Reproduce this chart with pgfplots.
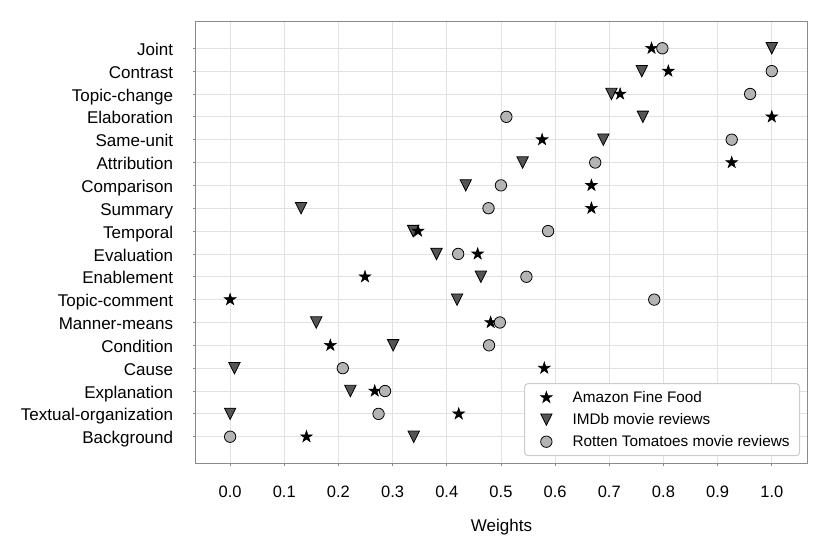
\documentclass[border=0pt]{standalone}
\usepackage{fontspec}
\setmainfont{Liberation Sans}
\usepackage{pgfplots}
\pgfplotsset{compat=1.18}
\definecolor{framegray}{HTML}{8A8A8A}
\definecolor{gridgray}{HTML}{E2E2E2}
\definecolor{leggray}{HTML}{CCCCCC}
\definecolor{trifill}{HTML}{555555}
\definecolor{circfill}{HTML}{B4B4B4}

\pgfdeclareplotmark{mstar}{%
  \pgfpathmoveto{\pgfpointpolar{90}{\pgfplotmarksize}}%
  \pgfpathlineto{\pgfpointpolar{126}{0.382\pgfplotmarksize}}%
  \pgfpathlineto{\pgfpointpolar{162}{\pgfplotmarksize}}%
  \pgfpathlineto{\pgfpointpolar{198}{0.382\pgfplotmarksize}}%
  \pgfpathlineto{\pgfpointpolar{234}{\pgfplotmarksize}}%
  \pgfpathlineto{\pgfpointpolar{270}{0.382\pgfplotmarksize}}%
  \pgfpathlineto{\pgfpointpolar{306}{\pgfplotmarksize}}%
  \pgfpathlineto{\pgfpointpolar{342}{0.382\pgfplotmarksize}}%
  \pgfpathlineto{\pgfpointpolar{18}{\pgfplotmarksize}}%
  \pgfpathlineto{\pgfpointpolar{54}{0.382\pgfplotmarksize}}%
  \pgfpathclose
  \pgfusepathqfillstroke
}
\pgfdeclareplotmark{mtridown}{%
  \pgfpathmoveto{\pgfqpoint{0pt}{-\pgfplotmarksize}}%
  \pgfpathlineto{\pgfqpoint{-\pgfplotmarksize}{\pgfplotmarksize}}%
  \pgfpathlineto{\pgfqpoint{\pgfplotmarksize}{\pgfplotmarksize}}%
  \pgfpathclose
  \pgfusepathqfillstroke
}

\pgfplotstableread{
y A I R
0 0.141 0.339 0.000
1 0.422 0.000 0.274
2 0.267 0.222 0.286
3 0.580 0.008 0.208
4 0.185 0.301 0.478
5 0.481 0.159 0.498
6 0.000 0.419 0.783
7 0.249 0.463 0.547
8 0.457 0.381 0.421
9 0.347 0.338 0.587
10 0.667 0.131 0.477
11 0.667 0.435 0.500
12 0.926 0.540 0.674
13 0.576 0.689 0.926
14 1.000 0.762 0.510
15 0.720 0.704 0.960
16 0.809 0.760 1.000
17 0.778 1.000 0.798
}\data

\begin{document}
\begin{tikzpicture}
\path[use as bounding box] (-196pt,-91pt) rectangle (634pt,463pt);
\begin{axis}[
  at={(0,0)}, anchor=south west,
  scale only axis, width=611pt, height=441pt,
  xmin=-0.063, xmax=1.065, ymin=-1.15, ymax=18.15,
  xtick={0,0.1,0.2,0.3,0.4,0.5,0.6,0.7,0.8,0.9,1.0},
  xticklabels={0.0,0.1,0.2,0.3,0.4,0.5,0.6,0.7,0.8,0.9,1.0},
  ytick={0,1,2,3,4,5,6,7,8,9,10,11,12,13,14,15,16,17},
  yticklabels={Background,Textual-organization,Explanation,Cause,Condition,Manner-means,Topic-comment,Enablement,Evaluation,Temporal,Summary,Comparison,Attribution,Same-unit,Elaboration,Topic-change,Contrast,Joint},
  grid=major,
  major grid style={color=gridgray, line width=0.8pt},
  axis line style={color=framegray, line width=1pt},
  tick pos=left, tick align=outside, major tick length=3pt,
  tick style={color=framegray, line width=0.8pt},
  xticklabel style={font=\fontsize{16.5}{19}\selectfont, inner sep=0pt, text height=11.8pt, text depth=0pt, anchor=north, yshift=-19pt},
  yticklabel style={font=\fontsize{17}{20}\selectfont, inner sep=0pt, text height=12.2pt, text depth=0pt, anchor=east, xshift=-19.7pt, yshift=-1pt},
  xlabel={Weights},
  xlabel style={at={(axis description cs:0.5,0)}, anchor=north, inner sep=0pt, yshift=-56pt, font=\fontsize{17}{20}\selectfont, text height=12.2pt, text depth=0pt},
  legend cell align=left,
  legend image code/.code={\path[draw=none,fill=none] (0pt,-1pt) rectangle (38pt,1pt); \draw[sharp corners,#1] plot coordinates {(13.7pt,0pt)};},
  legend style={at={(1,0)}, anchor=south east, xshift=-7pt, yshift=7pt,
    draw=leggray, line width=1pt, rounded corners=3pt, fill=white,
    font=\fontsize{15.3}{18}\selectfont, inner xsep=8pt, inner ysep=5.5pt, row sep=5.5pt},
]
\addlegendimage{only marks, mark=mstar, mark size=6.1pt, mark options={fill=black, draw=black, line width=0.6pt}}
\addlegendentry{Amazon Fine Food}
\addlegendimage{only marks, mark=mtridown, mark size=5.7pt, mark options={fill=trifill, draw=black, line width=0.8pt}}
\addlegendentry{IMDb movie reviews}
\addlegendimage{only marks, mark=*, mark size=5.7pt, mark options={fill=circfill, draw=black, line width=0.8pt}}
\addlegendentry{Rotten Tomatoes movie reviews}
\addplot[forget plot, only marks, mark=mtridown, mark size=5.7pt, mark options={fill=trifill, draw=black, line width=0.8pt}] table[x=I, y=y] {\data};
\addplot[forget plot, only marks, mark=mstar, mark size=6.1pt, mark options={fill=black, draw=black, line width=0.6pt}] table[x=A, y=y] {\data};
\addplot[forget plot, only marks, mark=*, mark size=5.7pt, mark options={fill=circfill, draw=black, line width=0.8pt}] table[x=R, y=y] {\data};
\end{axis}
\end{tikzpicture}
\end{document}
